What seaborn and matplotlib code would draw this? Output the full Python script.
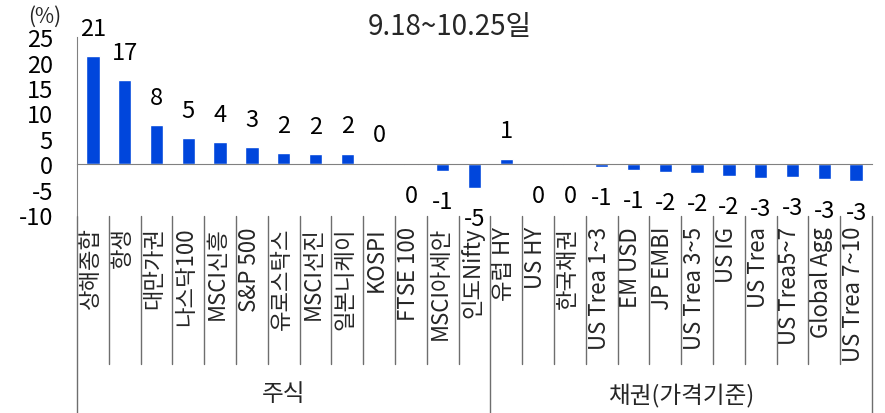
import numpy as np
import pandas as pd
import matplotlib
matplotlib.use("Agg")
import matplotlib.pyplot as plt
import matplotlib.transforms as mtransforms
import seaborn as sns

# ---- data ----
stock_names = ["상해종합", "항생", "대만가권", "나스닥100", "MSCI신흥", "S&P 500",
               "유로스탁스", "MSCI선진", "일본니케이", "KOSPI", "FTSE 100",
               "MSCI아세안", "인도Nifty"]
stock_values = [21.3, 16.6, 7.7, 5.2, 4.3, 3.3, 2.2, 2.0, 2.1, 0.3, -0.1, -1.3, -4.7]
bond_names = ["유럽 HY", "US HY", "한국채권", "US Trea 1~3", "EM USD", "JP EMBI",
              "US Trea 3~5", "US IG", "US Trea", "US Trea5~7", "Global Agg",
              "US Trea 7~10"]
bond_values = [1.1, -0.05, -0.1, -0.55, -1.05, -1.55, -1.7, -2.35, -2.7, -2.6, -3.0, -3.4]
group_names = ["주식", "채권(가격기준)"]
title_text = "9.18~10.25일"
unit_text = "(%)"
y_ticks = [-10, -5, 0, 5, 10, 15, 20, 25]

names = stock_names + bond_names
values = stock_values + bond_values
df = pd.DataFrame({"name": names, "value": values})

BLUE = "#0046DC"
AXIS_GREY = "#808080"
SEP_GREY = "#6e6e6e"

sns.set_style("white")
plt.rcParams["font.family"] = ["Noto Sans CJK KR", "DejaVu Sans"]
plt.rcParams["axes.unicode_minus"] = False

W, H = 885, 414
fig = plt.figure(figsize=(W / 100, H / 100), dpi=100)
left, right = 77 / W, 872 / W
ybot, ytop = (H - 216) / H, (H - 38.3) / H
ax = fig.add_axes([left, ybot, right - left, ytop - ybot])

sns.barplot(data=df, x="name", y="value", order=names, color=BLUE,
            saturation=1, width=0.42, ax=ax)

n = len(names)
ax.set_xlim(-0.5, n - 0.5)
ax.set_ylim(-10, 25)
ax.set_yticks(y_ticks)
ax.set_yticklabels([str(t) for t in y_ticks], fontsize=17)
ax.set_xlabel("")
ax.set_ylabel("")

for s in ["top", "right"]:
    ax.spines[s].set_visible(False)
ax.spines["left"].set_color(AXIS_GREY)
ax.spines["bottom"].set_color(AXIS_GREY)
ax.spines["bottom"].set_position(("data", 0))
ax.set_xticks(np.arange(-0.5, n, 1.0))
ax.set_xticklabels([""] * (n + 1))
ax.tick_params(axis="x", direction="out", length=4, color=AXIS_GREY, width=1)
ax.tick_params(axis="y", direction="out", length=4.3, color=AXIS_GREY, width=1,
               pad=13, labelcolor="black")

# value labels
for i, v in enumerate(values):
    off = 20 if v >= 0 else -22
    ax.annotate(str(round(v)), xy=(i, v), xytext=(0, off),
                textcoords="offset points", ha="center", va="center",
                fontsize=17, color="black", annotation_clip=False)

# category labels and separators
trans = mtransforms.blended_transform_factory(ax.transData, fig.transFigure)
for i, name in enumerate(names):
    ax.text(i - 0.08, (H - 227) / H, name, rotation=90, ha="center", va="top",
            fontsize=16, transform=trans, clip_on=False)

sep_top = (H - 217) / H
sep_bot = (H - 365) / H
group_bounds = [-0.5, len(stock_names) - 0.5, n - 0.5]
for b in np.arange(0.5, n - 0.5, 1.0):
    if b in group_bounds:
        continue
    ax.plot([b, b], [sep_top, sep_bot], color=SEP_GREY, lw=1,
            transform=trans, clip_on=False)
for b in group_bounds:
    ax.plot([b, b], [sep_top, 0], color=SEP_GREY, lw=1,
            transform=trans, clip_on=False)

# group labels
centers = [(len(stock_names) - 1) / 2, len(stock_names) + (len(bond_names) - 1) / 2]
for c, g in zip(centers, group_names):
    ax.text(c, (H - 395) / H, g, ha="center", va="center", fontsize=17,
            transform=trans, clip_on=False)

fig.text(450 / W, (H - 27) / H, title_text, ha="center", va="center", fontsize=20)
fig.text(45 / W, (H - 17) / H, unit_text, ha="center", va="center", fontsize=15)

fig.savefig("out.png", dpi=100)
